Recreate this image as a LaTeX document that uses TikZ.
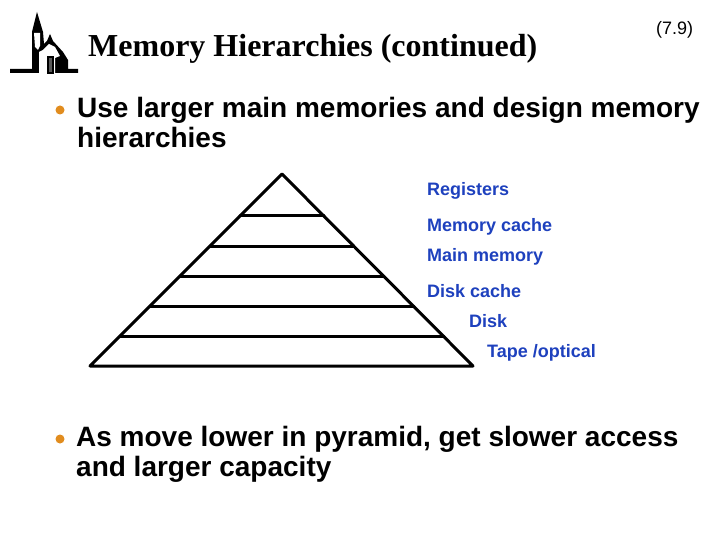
\documentclass[tikz,border=0pt]{standalone}
\usepackage{fontspec}
\setmainfont{Liberation Sans}
\newfontfamily\titlefont{Liberation Serif}
\usetikzlibrary{positioning,calc}
\definecolor{LabelBlue}{RGB}{30,65,190}
\definecolor{BulletOrange}{RGB}{225,140,30}
\tikzset{
  bar/.style={draw=black,line width=3pt,line join=round,line cap=round},
  lab/.style={anchor=base west,inner sep=0pt,text=LabelBlue,font=\fontsize{18}{20}\selectfont\bfseries},
  point/.style={anchor=north west,inner sep=0pt,align=left,font=\fontsize{28}{30}\selectfont\bfseries},
  dot/.style={circle,fill=BulletOrange,inner sep=0pt,minimum size=9pt},
}
\begin{document}
\begin{tikzpicture}[x=1pt,y=-1pt]
\useasboundingbox (0,0) rectangle (720,540);
\fill[white] (0,0) rectangle (720,540);
% logo
\fill[black] (10,69)--(32,69)--(32,32)--(37,12)--(43,32)--(44,44)--(47,41)--(50,34)--(53,41)--(63,52)--(68,60)--(68,69)--(78,69)--(78,73)--(10,73)--cycle;
\fill[white] (34,33)--(40,33)--(40,46)--(38,50)--(35,47)--cycle;
\fill[white] (39,74)--(39,52)--(43,50)--(49,44)--(55,47)--(60,56)--(55,58)--(55,74)--cycle;
\fill[black] (47,56) rectangle (54,74);
\fill[black!65] (49,58) rectangle (52,72);
% title
\node[anchor=base west,inner sep=0pt,font=\titlefont\fontsize{32}{36}\selectfont\bfseries] (title) at (88,57) {Memory Hierarchies (continued)};
\node[anchor=base west,inner sep=0pt,font=\fontsize{18}{20}\selectfont] (slide) at (656,35) {(7.9)};
% bullets
\node[dot] (b1) at (60,110) {};
\node[point] (p1) at (77,97) {Use larger main memories and design memory\\hierarchies};
\node[dot] (b2) at (60,439) {};
\node[point] (p2) at (76,426) {As move lower in pyramid, get slower access\\and larger capacity};
% pyramid
\coordinate (top) at (282,174);
\coordinate (l1) at (240,216);
\coordinate (r1) at (324,216);
\coordinate (l2) at (210,246);
\coordinate (r2) at (354,246);
\coordinate (l3) at (180,276);
\coordinate (r3) at (384,276);
\coordinate (l4) at (150,306);
\coordinate (r4) at (414,306);
\coordinate (l5) at (120,336);
\coordinate (r5) at (444,336);
\coordinate (l6) at (90,366);
\coordinate (r6) at (473,366);
\draw[bar] (l6)--(top)--(r6)--cycle;
\draw[bar] (l1)--(r1);
\draw[bar] (l2)--(r2);
\draw[bar] (l3)--(r3);
\draw[bar] (l4)--(r4);
\draw[bar] (l5)--(r5);
% labels
\node[lab] (reg) at (427,195.5) {Registers};
\node[lab] (cache) at (427,231) {Memory cache};
\node[lab] (mem) at (427,261) {Main memory};
\node[lab] (dcache) at (427,297) {Disk cache};
\node[lab] (disk) at (469,327) {Disk};
\node[lab] (tape) at (487,357) {Tape /optical};
\end{tikzpicture}
\end{document}
